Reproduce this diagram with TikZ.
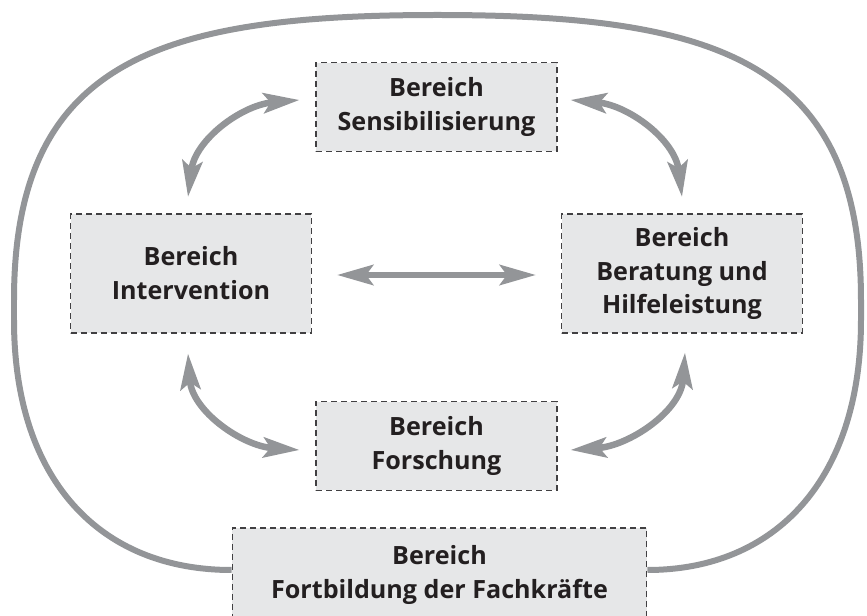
\documentclass[tikz,border=0pt]{standalone}
\usepackage{fontspec}
\setmainfont{Open Sans}
\usepackage{tikz}
\usetikzlibrary{
  positioning,
  arrows.meta
}
\usepackage{xcolor}
\definecolor{ringgray}{HTML}{939598}
\definecolor{boxfill}{HTML}{E6E7E8}
\definecolor{boxline}{HTML}{414042}
\definecolor{ink}{HTML}{231F20}

\begin{document}
\begin{tikzpicture}[
  x=0.02cm, y=0.02cm,
  bereich/.style={draw=boxline, line width=0.6pt, dash pattern=on 0.12cm off 0.08cm,
                  fill=boxfill, minimum width=4.82cm, minimum height=1.78cm, align=center,
                  text=ink, font=\bfseries\fontsize{14.3}{19.3}\selectfont},
  ring/.style={draw=ringgray, line width=0.12cm},
  biarrow/.style={draw=ringgray, line width=0.13cm,
                  {Stealth[length=0.72cm, width=0.4cm, inset=0.14cm]}-{Stealth[length=0.72cm, width=0.4cm, inset=0.14cm]}}
]
  \useasboundingbox (0,0) rectangle (867,616);
  \clip (0,0) rectangle (867,616);

  % Bereiche
  \node[bereich] (sens) at (436.5, 509) {Bereich\\Sensibilisierung};
  \node[bereich, minimum height=2.38cm] (interv) at (191, 342.5) {Bereich\\Intervention};
  \node[bereich, minimum height=2.38cm] (berat) at (682, 342.5) {Bereich\\Beratung und\\Hilfeleistung};
  \node[bereich] (forsch) at (436.5, 170) {Bereich\\Forschung};
  \node[bereich, minimum width=8.3cm, minimum height=1.88cm] (fortb) at (439.5, 41)
    {Bereich\\Fortbildung der Fachkräfte};

  % Rahmen
  \draw[ring] ([yshift=0.1cm]fortb.west) .. controls (100,46) and (14,136) .. (14,296)
    -- (14,316) .. controls (14,556) and (160,601) .. (437.5,601)
    .. controls (715,601) and (861,556) .. (861,316)
    -- (861,296) .. controls (861,136) and (775,46) .. ([yshift=0.1cm]fortb.east);

  % Wechselwirkungen
  \draw[biarrow] ([xshift=-0.06cm, yshift=0.33cm]interv.north) to[out=83, in=185]
    ([xshift=-0.32cm, yshift=0.14cm]sens.west);
  \draw[biarrow] ([xshift=0.26cm, yshift=0.14cm]sens.east) to[out=-5, in=97]
    ([yshift=0.33cm]berat.north);
  \draw[biarrow] ([xshift=-0.06cm, yshift=-0.4cm]interv.south) to[out=-86, in=176]
    ([xshift=-0.32cm, yshift=-0.08cm]forsch.west);
  \draw[biarrow] ([xshift=0.26cm, yshift=-0.08cm]forsch.east) to[out=4, in=-94]
    ([xshift=0.06cm, yshift=-0.38cm]berat.south);
  \draw[biarrow] ([xshift=0.5cm, yshift=-0.03cm]interv.east) -- ([xshift=-0.5cm, yshift=-0.03cm]berat.west);
\end{tikzpicture}
\end{document}
